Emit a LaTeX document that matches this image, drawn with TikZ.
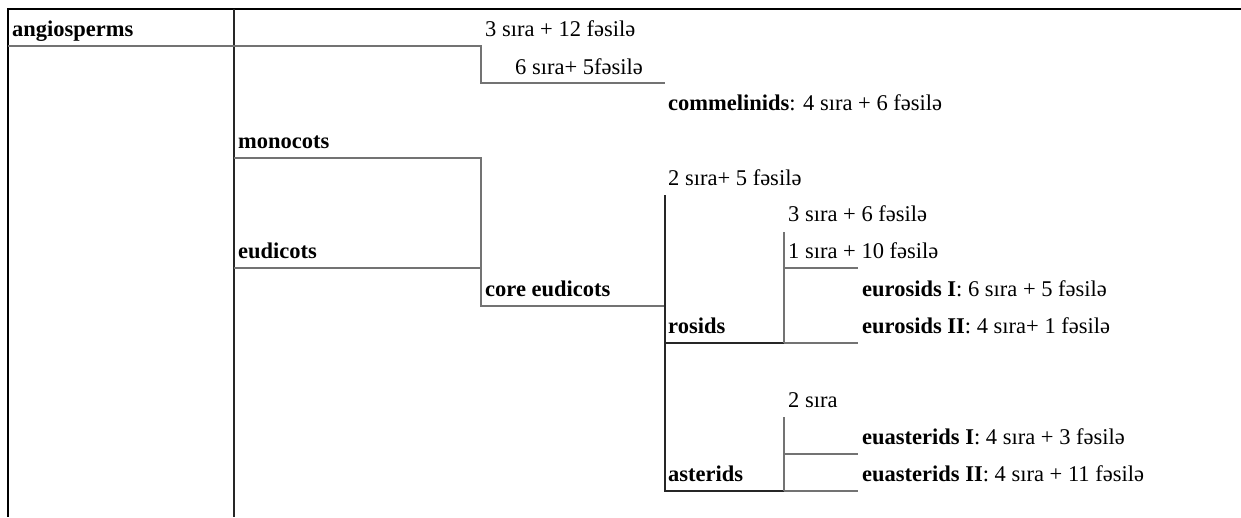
\documentclass[tikz,border=0pt]{standalone}
\usepackage{fontspec}
\setmainfont{Liberation Serif}
\begin{document}
\begin{tikzpicture}[x=1pt,y=-1pt,
  lbl/.style={anchor=base west,inner sep=0pt,font=\fontsize{22.5}{27}\selectfont},
  bl/.style={lbl,font=\fontsize{22.5}{27}\selectfont\bfseries},
  frame/.style={line width=2.2pt,black},
  dk/.style={line width=1.2pt,black!85},
  gr/.style={line width=1.2pt,black!55}]
\useasboundingbox (0,0) rectangle (1241,517);
% frame
\draw[frame] (7,9) -- (1241,9);
\draw[frame] (8,9) -- (8,517);
\draw[dk] (234,9) -- (234,517);
% labels
\node[bl] (ang) at (12,36) {angiosperms};
\node[lbl] (t1) at (485,36) {3 sıra + 12 fəsilə};
\node[lbl] (t2) at (515,74) {6 sıra+ 5fəsilə};
\node[lbl] (com) at (668,110) {\textbf{commelinids}: 4 sıra + 6 fəsilə};
\node[bl] (mono) at (238,148) {monocots};
\node[lbl] (t3) at (668,185) {2 sıra+ 5 fəsilə};
\node[lbl] (t4) at (788,221) {3 sıra + 6 fəsilə};
\node[lbl] (t5) at (788,258) {1 sıra + 10 fəsilə};
\node[bl] (eud) at (238,258) {eudicots};
\node[lbl] (er1) at (862,296) {\textbf{eurosids I}: 6 sıra + 5 fəsilə};
\node[bl] (core) at (485,296) {core eudicots};
\node[bl] (ros) at (668,333) {rosids};
\node[lbl] (er2) at (862,333) {\textbf{eurosids II}: 4 sıra+ 1 fəsilə};
\node[lbl] (t6) at (788,407) {2 sıra};
\node[lbl] (ea1) at (862,444) {\textbf{euasterids I}: 4 sıra + 3 fəsilə};
\node[bl] (ast) at (668,481) {asterids};
\node[lbl] (ea2) at (862,481) {\textbf{euasterids II}: 4 sıra + 11 fəsilə};
% tree lines
\draw[gr] (8,46) -- (481,46) -- (481,83) -- (665,83);
\draw[gr] (234,158) -- (481,158) -- (481,306) -- (665,306);
\draw[gr] (234,268) -- (481,268);
\draw[dk] (665,195) -- (665,491) -- (784,491);
\draw[gr] (784,491) -- (858,491);
\draw[dk] (665,343) -- (784,343);
\draw[gr] (784,343) -- (858,343);
\draw[gr] (784,232) -- (784,343);
\draw[gr] (784,268) -- (858,268);
\draw[gr] (784,417) -- (784,491);
\draw[gr] (784,454) -- (858,454);
\end{tikzpicture}
\end{document}
